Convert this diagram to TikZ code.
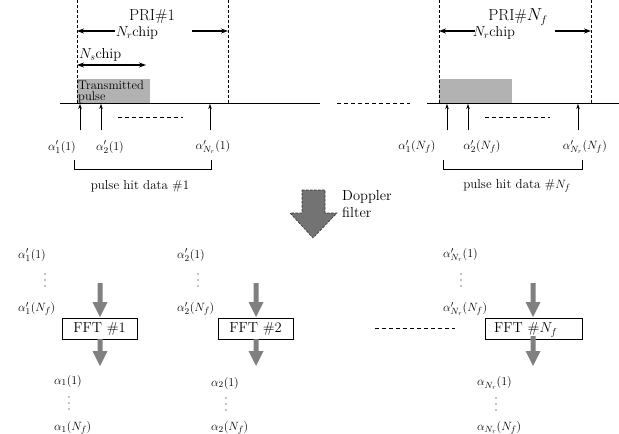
\documentclass[tikz,border=0pt]{standalone}
\usetikzlibrary{arrows.meta}
\definecolor{pulsegray}{gray}{0.70}
\definecolor{flowgray}{gray}{0.50}
\definecolor{dopgray}{gray}{0.45}
\tikzset{
  pri/.style={font=\fontsize{16}{16}\selectfont, inner sep=0pt},
  chip/.style={font=\fontsize{14.5}{14.5}\selectfont, inner sep=0pt},
  lbl/.style={font=\fontsize{13}{13}\selectfont, inner sep=0pt},
  small/.style={font=\fontsize{13}{13}\selectfont, inner sep=0pt},
  fftbox/.style={draw, line width=0.7pt, minimum width=75pt, minimum height=21pt, inner sep=0pt,
                 font=\fontsize{14.5}{14.5}\selectfont},
  spanarrow/.style={line width=1.1pt, -{Stealth[length=7pt,width=5pt]}},
  hitarrow/.style={line width=0.6pt, -{Stealth[length=5pt,width=3.5pt]}},
  guide/.style={dashed, line width=0.6pt, dash pattern=on 3pt off 2pt},
  gap/.style={dashed, line width=0.6pt, dash pattern=on 4pt off 3pt},
}
% gray flow arrow: x, top y, tip y
\newcommand{\flowarrow}[3]{%
  \fill[flowgray] (#1-2.5,#2) -- (#1+2.5,#2) -- (#1+2.5,#3-15) -- (#1+7.5,#3-15)
     -- (#1,#3) -- (#1-7.5,#3-15) -- (#1-2.5,#3-15) -- cycle;}
% vertical ellipsis drawn as three dots centred at x, y
\newcommand{\dotcol}[2]{%
  \foreach \dy in {-6,0,6}{\fill (#1,#2+\dy) circle (0.65pt);}}
\begin{document}
\begin{tikzpicture}[x=1pt,y=-1pt]
\useasboundingbox (0,0) rectangle (619,434);

% ---------- time axis ----------
\coordinate (axA) at (60,103);  \coordinate (axB) at (320,103);
\coordinate (axC) at (337,103); \coordinate (axD) at (410,103);
\coordinate (axE) at (427,103); \coordinate (axF) at (619,103);

% transmitted pulses
\fill[pulsegray] (77,79) rectangle (150,103);
\fill[pulsegray] (439,79) rectangle (512,103);

\draw[line width=0.8pt] (axA) -- (axB);
\draw[gap] (axC) -- (axD);
\draw[line width=0.8pt] (axE) -- (axF);

% PRI boundaries
\foreach \x/\n in {77/a,228/b,439/c,591/d}{
  \coordinate (top\n) at (\x,0);
  \coordinate (bot\n) at (\x,103);
  \draw[guide] (top\n) -- (bot\n);
}

% ---------- PRI #1 ----------
\node[pri] (pri1) at (152,17) {PRI\#1};
\node[chip] (nr1) at (137,33) {$N_r$chip};
\coordinate (nr1L) at (77,31); \coordinate (nr1R) at (228,31);
\coordinate (nr1a) at (115,31); \coordinate (nr1b) at (192,31);
\draw[spanarrow] (nr1a) -- (nr1L);
\draw[spanarrow] (nr1b) -- (nr1R);

\node[chip, anchor=west] (ns1) at (79,55) {$N_s$chip};
\coordinate (nsL) at (77,65); \coordinate (nsR) at (146,65);
\draw[line width=1.1pt, {Stealth[length=7pt,width=5pt]}-{Stealth[length=7pt,width=5pt]}] (nsL) -- (nsR);

\node[anchor=west, inner sep=0pt, font=\fontsize{12.5}{12.5}\selectfont] (tx1) at (78,85) {Transmitted};
\node[anchor=west, inner sep=0pt, font=\fontsize{12.5}{12.5}\selectfont] (tx2) at (78,97.5) {pulse};

% hit arrows, PRI #1
\foreach \x/\n in {80/h1,101/h2,210/h3}{
  \coordinate (\n s) at (\x,130);
  \coordinate (\n e) at (\x,104);
  \draw[hitarrow] (\n s) -- (\n e);
}
\coordinate (d1a) at (118,117); \coordinate (d1b) at (183,117);
\draw[gap] (d1a) -- (d1b);

\node[lbl] (a11) at (62,147) {$\alpha'_1(1)$};
\node[lbl] (a21) at (110,147) {$\alpha'_2(1)$};
\node[lbl] (ar1) at (213,147) {$\alpha'_{N_r}(1)$};

\coordinate (br1a) at (74,160); \coordinate (br1b) at (74,169);
\coordinate (br1c) at (211,169); \coordinate (br1d) at (211,160);
\draw[line width=0.6pt] (br1a) -- (br1b) -- (br1c) -- (br1d);
\node[small] (phd1) at (140,186) {pulse hit data \#1};

% ---------- PRI #Nf ----------
\node[pri] (prif) at (518,17) {PRI\#$N_f$};
\node[chip] (nrf) at (494,33) {$N_r$chip};
\coordinate (nrfL) at (439,31); \coordinate (nrfR) at (591,31);
\coordinate (nrfa) at (475,31); \coordinate (nrfb) at (555,31);
\draw[spanarrow] (nrfa) -- (nrfL);
\draw[spanarrow] (nrfb) -- (nrfR);

\foreach \x/\n in {447/g1,468/g2,578/g3}{
  \coordinate (\n s) at (\x,130);
  \coordinate (\n e) at (\x,104);
  \draw[hitarrow] (\n s) -- (\n e);
}
\coordinate (dfa) at (485,117); \coordinate (dfb) at (550,117);
\draw[gap] (dfa) -- (dfb);

\node[lbl] (a1f) at (417,147) {$\alpha'_1(N_f)$};
\node[lbl] (a2f) at (482,147) {$\alpha'_2(N_f)$};
\node[lbl] (arf) at (585,147) {$\alpha'_{N_r}(N_f)$};

\coordinate (brfa) at (443,160); \coordinate (brfb) at (443,169);
\coordinate (brfc) at (582,169); \coordinate (brfd) at (582,160);
\draw[line width=0.6pt] (brfa) -- (brfb) -- (brfc) -- (brfd);
\node[small] (phdf) at (517,186) {pulse hit data \#$N_f$};

% ---------- Doppler filter arrow ----------
\draw[fill=dopgray, draw=black!80, dashed, dash pattern=on 2.5pt off 1.5pt, line width=0.6pt]
  (302,190) -- (325,190) -- (325,213) -- (337,213) -- (313,238) -- (290,213) -- (302,213) -- cycle;
\node[chip, anchor=west] (dop) at (342,197) {Doppler};
\node[chip, anchor=west] (filt) at (342,212) {filter};

% ---------- FFT bank ----------
% column 1
\node[lbl, anchor=west] (c1a) at (18,255) {$\alpha'_1(1)$};
\dotcol{45}{280}
\node[lbl, anchor=west] (c1b) at (18,309) {$\alpha'_1(N_f)$};
\node[fftbox] (fft1) at (99.5,328.5) {FFT \#1};
\flowarrow{100}{283}{317}
\flowarrow{100}{339}{366}
\node[lbl, anchor=west] (o1a) at (54,381) {$\alpha_1(1)$};
\dotcol{69}{403}
\node[lbl, anchor=west] (o1b) at (54,428) {$\alpha_1(N_f)$};

% column 2
\node[lbl, anchor=west] (c2a) at (177,255) {$\alpha'_2(1)$};
\dotcol{198}{280}
\node[lbl, anchor=west] (c2b) at (177,309) {$\alpha'_2(N_f)$};
\node[fftbox] (fft2) at (255.5,328.5) {FFT \#2};
\flowarrow{256}{283}{317}
\flowarrow{256}{339}{366}
\node[lbl, anchor=west] (o2a) at (211,383) {$\alpha_2(1)$};
\dotcol{226}{404}
\node[lbl, anchor=west] (o2b) at (211,428) {$\alpha_2(N_f)$};

% column Nr
\coordinate (dca) at (375,328); \coordinate (dcb) at (455,328);
\draw[gap] (dca) -- (dcb);
\node[lbl, anchor=west] (c3a) at (443,255) {$\alpha'_{N_r}(1)$};
\dotcol{461}{280}
\node[lbl, anchor=west] (c3b) at (443,309) {$\alpha'_{N_r}(N_f)$};
\node[fftbox, minimum width=97pt] (fft3) at (533.5,328.5) {};
\node[chip, anchor=west] (fft3t) at (494,330) {FFT \#$N_f$};
\flowarrow{533}{283}{317}
\flowarrow{533}{336}{366}
\node[lbl, anchor=west] (o3a) at (477,383) {$\alpha_{N_r}(1)$};
\dotcol{496}{404}
\node[lbl, anchor=west] (o3b) at (477,428) {$\alpha_{N_r}(N_f)$};
\end{tikzpicture}
\end{document}
